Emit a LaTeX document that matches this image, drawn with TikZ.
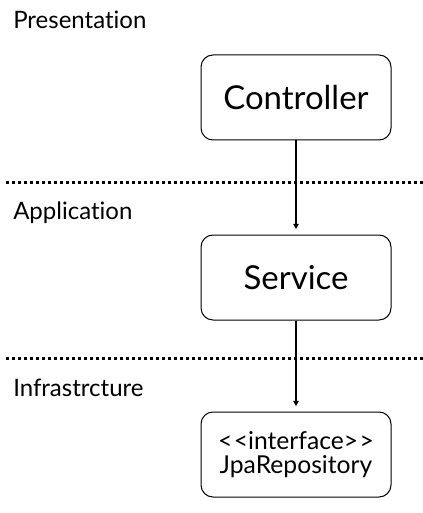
\documentclass[tikz,border=0pt]{standalone}
\usepackage{fontspec}
\setmainfont{Lato}[Ligatures=CommonOff]
\usetikzlibrary{arrows.meta}

\begin{document}
\begin{tikzpicture}[x=0.75pt,y=-0.75pt,>={Triangle[length=4pt,width=4pt]}]
\tikzset{layer/.style={anchor=west,inner sep=0pt,font=\fontsize{18}{21}\selectfont},
  comp/.style={draw,rounded corners=9pt,minimum width=142.5pt,minimum height=63.75pt,
    line width=0.75pt,align=center,inner sep=0pt},
  sep/.style={line width=2.25pt,dash pattern=on 2.25pt off 2.25pt}}
\useasboundingbox (0,0) rectangle (423,513);
% layer separators
\draw[sep] (6,183) -- (423,183);
\draw[sep] (6,358) -- (423,358);
% layer names
\node[layer] (pres) at (13,20) {Presentation};
\node[layer] (app) at (13,213) {Application};
\node[layer] (infra) at (13,388) {Infrastrcture};
% components
\node[comp,font=\fontsize{24.7}{28}\selectfont] (ctrl) at (296,97.5) {Controller};
\node[comp,font=\fontsize{24.7}{28}\selectfont] (svc) at (296,277.5) {Service};
\node[comp,font=\fontsize{18.5}{17.5}\selectfont] (repo) at (296,454.5) {<\kern1pt<interface>\kern1pt>\\JpaRepository};
% dependencies
\draw[->,line width=1.1pt,shorten >=4pt] (ctrl.south) -- (svc.north);
\draw[->,line width=1.1pt,shorten >=4pt] (svc.south) -- (repo.north);
\end{tikzpicture}
\end{document}
